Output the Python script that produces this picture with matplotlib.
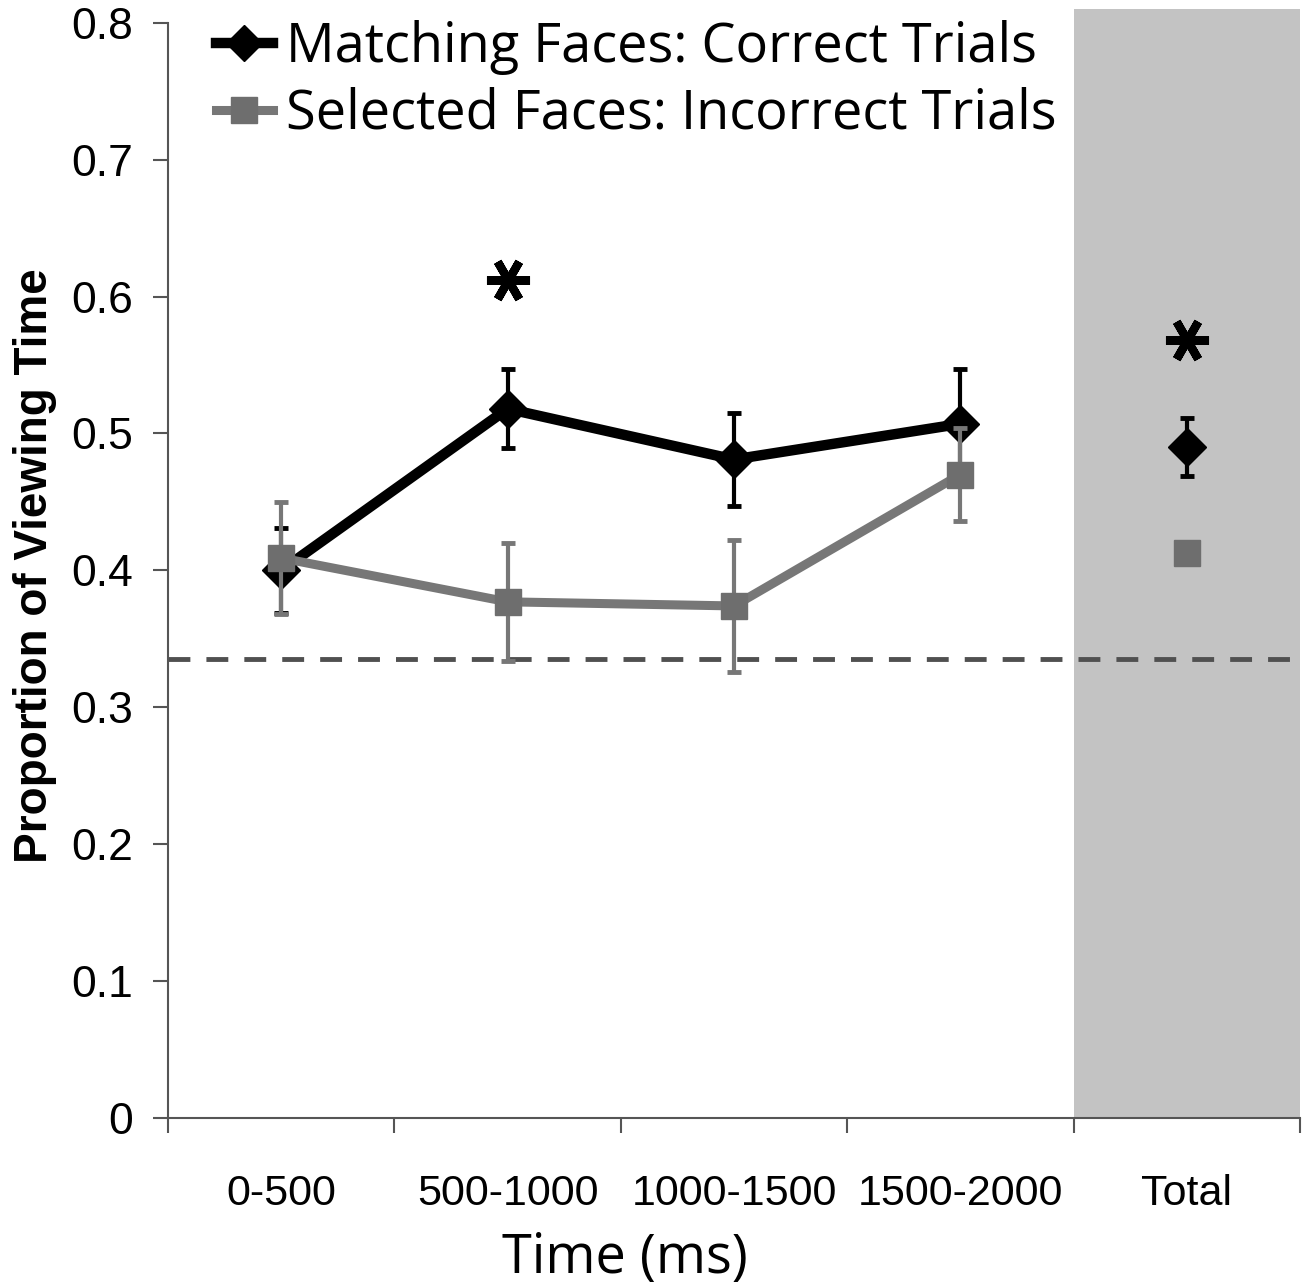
import matplotlib
matplotlib.use("Agg")
import matplotlib.pyplot as plt
import numpy as np

categories = ["0-500", "500-1000", "1000-1500", "1500-2000", "Total"]
matching = [0.400, 0.518, 0.481, 0.507, 0.490]
matching_err = [0.031, 0.029, 0.034, 0.040, 0.021]
selected = [0.409, 0.377, 0.374, 0.470, 0.413]
selected_err = [0.041, 0.043, 0.048, 0.034, 0.0]
chance = 0.335
star_idx = [1, 4]
star_y = [0.612, 0.568]

W, H = 1306, 1286
fig = plt.figure(figsize=(W / 100, H / 100), dpi=100)
ax = fig.add_axes([168 / W, 1 - 1118 / H, (1300 - 168) / W, (1118 - 9) / H])

x = np.arange(len(categories)) + 0.5
ax.set_xlim(0, 5)
ax.set_ylim(0, 0.81)

# shaded "Total" column
ax.axvspan(4, 5, color="#c3c3c3", lw=0, zorder=0)
ax.axhline(chance, color="#505050", lw=3.5, linestyle=(0, (4.5, 3.3)),
           dash_capstyle="butt", zorder=1)

black = "#000000"
grey = "#6e6e6e"

ax.errorbar(x, matching, yerr=matching_err, fmt="none", ecolor=black,
            elinewidth=3, capsize=5, capthick=3.5, zorder=2)
l1, = ax.plot(x[:4], matching[:4], color=black, lw=7.5, marker="D", ms=19,
              zorder=3, label="Matching Faces: Correct Trials")
ax.plot(x[4], matching[4], color=black, marker="D", ms=19, ls="none", zorder=3)

ax.errorbar(x[:4], selected[:4], yerr=selected_err[:4], fmt="none", ecolor="#777777",
            elinewidth=3, capsize=5, capthick=3.5, zorder=4)
l2, = ax.plot(x[:4], selected[:4], color="#777777", lw=6.5, marker="s", ms=19,
              mfc=grey, mec=grey, zorder=5, label="Selected Faces: Incorrect Trials")
ax.plot(x[4], selected[4], color=grey, marker="s", ms=19, ls="none", zorder=5)

# significance asterisks
ax.plot(x[star_idx], star_y, ls="none", marker=(6, 2, 30), ms=31, mew=6,
        color=black, zorder=6)

for s in ["top", "right"]:
    ax.spines[s].set_visible(False)
for s in ["left", "bottom"]:
    ax.spines[s].set_color("#555555")
    ax.spines[s].set_linewidth(1.5)
ax.spines["left"].set_bounds(0, 0.8)

yt = np.arange(0, 0.81, 0.1)
ax.set_yticks(yt)
ax.set_yticklabels(["0"] + [f"{v:.1f}" for v in yt[1:]],
                   fontfamily="Liberation Sans", fontsize=32)
ax.tick_params(axis="y", length=11, width=1.5, color="#555555", pad=14)

ax.set_xticks(x)
ax.set_xticklabels(categories, fontfamily="Liberation Sans", fontsize=31)
ax.set_xticks(np.arange(0, 6), minor=True)
ax.tick_params(axis="x", which="major", length=0, pad=40)
ax.tick_params(axis="x", which="minor", length=11, width=1.5, color="#555555")

fig.text(35 / W, 1 - 566 / H, "Proportion of Viewing Time", rotation=90,
         ha="center", va="center", fontfamily="Liberation Sans",
         fontweight="bold", fontsize=33)
fig.text(625 / W, 1 - 1273 / H, "Time (ms)", ha="center", va="baseline",
         fontfamily="Open Sans", fontsize=39)

ax.legend(handles=[l1, l2], loc="upper left", bbox_to_anchor=(216 / W, 1 - 20 / H),
          bbox_transform=fig.transFigure, frameon=False,
          prop={"family": "Open Sans", "size": 39}, handlelength=1.05,
          handletextpad=0.25, labelspacing=0.22, borderaxespad=0, borderpad=0,
          markerscale=0.95)

fig.savefig("out.png", dpi=100)
